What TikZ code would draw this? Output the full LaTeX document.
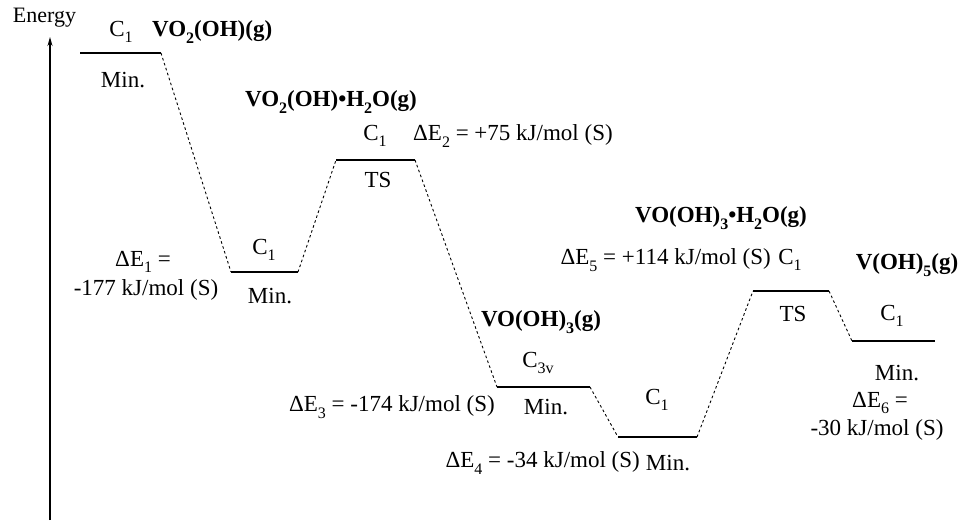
\documentclass[tikz,border=0pt]{standalone}
\usepackage{fontspec}
\setmainfont{Liberation Serif}
\usetikzlibrary{arrows.meta}
\newcommand\sbs[1]{\raisebox{-0.27em}{\fontsize{16}{16}\selectfont #1}}
\begin{document}
\begin{tikzpicture}[x=1pt,y=-1pt,
  level/.style={line width=1.3pt},
  conn/.style={line width=0.9pt,dash pattern=on 2.6pt off 2.6pt},
  lbl/.style={font=\fontsize{23}{25}\selectfont,inner sep=0pt},
  blbl/.style={font=\fontsize{23}{25}\selectfont\bfseries,inner sep=0pt}]
\useasboundingbox (0,0) rectangle (963,523);
% axis
\coordinate (ax0) at (50,520);
\coordinate (ax1) at (50,37);
\draw[line width=1.2pt,-{Stealth[length=9pt,width=5pt]}] (ax0) -- (ax1);
\node[inner sep=0pt,font=\fontsize{22}{24}\selectfont] (energy) at (44.5,18) {Energy};
% levels
\coordinate (a1) at (80,53);   \coordinate (a2) at (161,53);
\coordinate (b1) at (231,272); \coordinate (b2) at (298,272);
\coordinate (c1) at (336,160); \coordinate (c2) at (415,160);
\coordinate (d1) at (497,387); \coordinate (d2) at (590,387);
\coordinate (e1) at (618,437); \coordinate (e2) at (697,437);
\coordinate (f1) at (753,291); \coordinate (f2) at (829,291);
\coordinate (g1) at (852,341); \coordinate (g2) at (935,341);
\draw[level] (a1) -- (a2);
\draw[level] (b1) -- (b2);
\draw[level] (c1) -- (c2);
\draw[level] (d1) -- (d2);
\draw[level] (e1) -- (e2);
\draw[level] (f1) -- (f2);
\draw[level] (g1) -- (g2);
\draw[conn] (a2) -- (b1);
\draw[conn] (b2) -- (c1);
\draw[conn] (c2) -- (d1);
\draw[conn] (d2) -- (e1);
\draw[conn] (e2) -- (f1);
\draw[conn] (f2) -- (g1);
% labels level 1
\node[lbl] (a-sym) at (121,32) {C\sbs{1}};
\node[blbl,anchor=west] (a-name) at (152,32) {VO\sbs{2}(OH)(g)};
\node[lbl] (a-min) at (123,80) {Min.};
% level 2
\node[lbl] (b-sym) at (264,250) {C\sbs{1}};
\node[lbl] (b-min) at (270,296) {Min.};
\node[lbl] (de1a) at (143,262) {ΔE\sbs{1} =};
\node[lbl] (de1b) at (146,290) {-177 kJ/mol (S)};
% level 3
\node[blbl] (c-name) at (331,102) {VO\sbs{2}(OH)•H\sbs{2}O(g)};
\node[lbl] (c-sym) at (375,136) {C\sbs{1}};
\node[lbl] (c-ts) at (378,180) {TS};
\node[lbl,anchor=west] (de2) at (413,136) {ΔE\sbs{2} = +75 kJ/mol (S)};
% level 4
\node[blbl] (d-name) at (541,322) {VO(OH)\sbs{3}(g)};
\node[lbl] (d-sym) at (538,363) {C\sbs{3v}};
\node[lbl] (d-min) at (546,407) {Min.};
\node[lbl,anchor=east] (de3) at (495,407) {ΔE\sbs{3} = -174 kJ/mol (S)};
% level 5
\node[lbl] (e-sym) at (657,400) {C\sbs{1}};
\node[lbl] (e-min) at (668,463) {Min.};
\node[lbl,anchor=east] (de4) at (640,463) {ΔE\sbs{4} = -34 kJ/mol (S)};
% level 6
\node[blbl] (f-name) at (721,218) {VO(OH)\sbs{3}•H\sbs{2}O(g)};
\node[lbl] (f-sym) at (790,260) {C\sbs{1}};
\node[lbl] (f-ts) at (793,314) {TS};
\node[lbl,anchor=east] (de5) at (771,260) {ΔE\sbs{5} = +114 kJ/mol (S)};
% level 7
\node[blbl] (g-name) at (907,265) {V(OH)\sbs{5}(g)};
\node[lbl] (g-sym) at (892,316) {C\sbs{1}};
\node[lbl] (g-min) at (897,373) {Min.};
\node[lbl] (de6a) at (880,403) {ΔE\sbs{6} =};
\node[lbl] (de6b) at (877,430) {-30 kJ/mol (S)};
\end{tikzpicture}
\end{document}
